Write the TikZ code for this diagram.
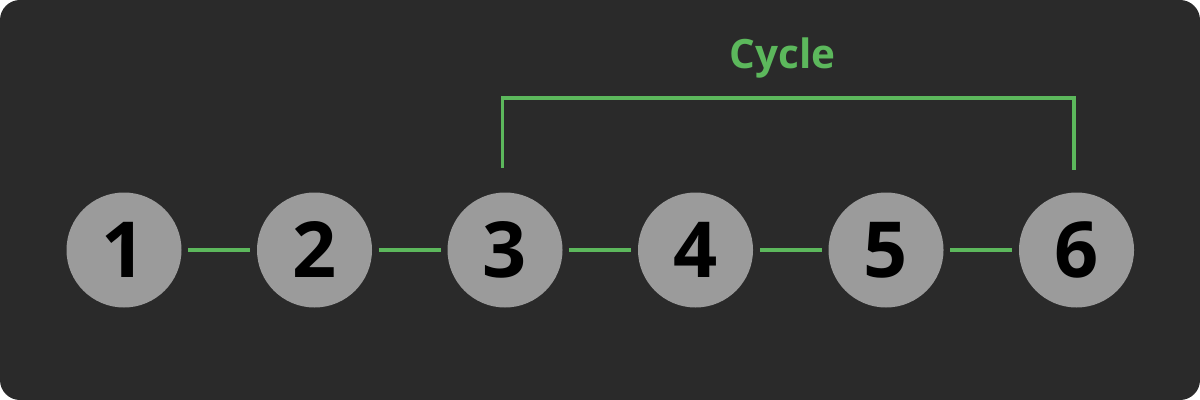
\documentclass[tikz,border=0pt]{standalone}
\usepackage{fontspec}
\setmainfont{Open Sans}
\definecolor{bgdark}{HTML}{2A2A2A}
\definecolor{nodegray}{HTML}{9B9B9B}
\definecolor{cyclegreen}{HTML}{5CB85C}
\begin{document}
\begin{tikzpicture}[node distance={3.81cm}, link/.style = {draw=cyclegreen, line width=2.2pt}, main/.style = {circle, fill=nodegray, minimum size=2.3cm, inner sep=0pt, font=\fontsize{44}{44}\selectfont\bfseries}]
        \fill[bgdark, rounded corners=0.4cm] (0,0) rectangle (24,-8);
        \node[main] (1) at (2.48,-5.0) {1};
        \node[main] (2) [right of=1] {2};
        \node[main] (3) [right of=2] {3};
        \node[main] (4) [right of=3] {4};
        \node[main] (5) [right of=4] {5};
        \node[main] (6) [right of=5] {6};
        \draw[link, shorten <=0.13cm, shorten >=0.13cm] (1) -- (2);
        \draw[link, shorten <=0.13cm, shorten >=0.13cm] (2) -- (3);
        \draw[link, shorten <=0.13cm, shorten >=0.13cm] (3) -- (4);
        \draw[link, shorten <=0.13cm, shorten >=0.13cm] (4) -- (5);
        \draw[link, shorten <=0.13cm, shorten >=0.13cm] (5) -- (6);

        \coordinate (top) at ([xshift=-0.05cm, yshift=1.89cm]6.north);
        \draw[link] ([xshift=-0.05cm, yshift=0.49cm]3.north) |- (top) -- ([xshift=-0.05cm, yshift=0.45cm]6.north);
        \node[text=cyclegreen, font=\fontsize{23}{23}\selectfont\bfseries] (cycle) at (15.65,-1.17) {Cycle};
    \end{tikzpicture}
\end{document}
